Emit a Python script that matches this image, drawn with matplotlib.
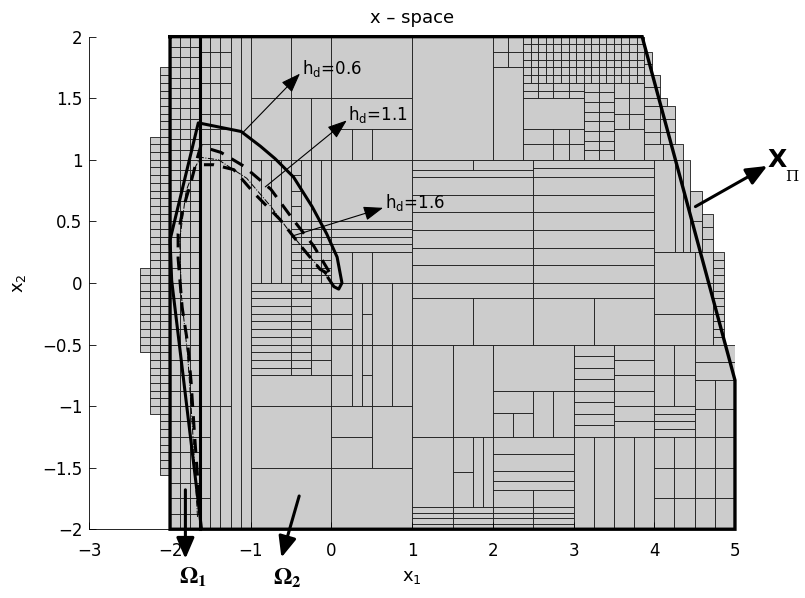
import numpy as np
import matplotlib.pyplot as plt
from matplotlib.patches import Rectangle
from matplotlib.collections import PatchCollection

# partition boxes: (x0, x1, y0, y1, columns, rows), each box split evenly
boxes = [
    # left fringe outside x1 = -2
    (-2.125, -2.0, -1.5625, 1.75, 1, 53),
    (-2.25, -2.125, -1.0625, 1.1875, 1, 36),
    (-2.375, -2.25, -0.5625, 0.125, 1, 11),
    # x1 in [-2, -1]
    (-2.0, -1.625, 0.5, 2.0, 3, 18),
    (-2.0, -1.625, -2.0, 0.5, 3, 20),
    (-1.625, -1.25, 1.0, 2.0, 3, 8),
    (-1.625, -1.25, -1.0, 1.0, 3, 1),
    (-1.625, -1.5, -2.0, -1.0, 1, 4),
    (-1.5, -1.25, -2.0, -1.0, 2, 1),
    (-1.25, -1.0, -2.0, 2.0, 2, 1),
    # x1 in [-1, 0]
    (-1.0, -0.5, 1.5, 2.0, 1, 1),
    (-0.5, 0.0, 1.5, 2.0, 1, 1),
    (-1.0, -0.5, 1.0, 1.5, 1, 1),
    (-0.5, 0.0, 1.0, 1.5, 2, 1),
    (-1.0, -0.5, 0.5, 1.0, 4, 1),
    (-0.5, -0.375, 0.5, 1.0, 1, 4),
    (-0.375, 0.0, 0.5, 1.0, 3, 1),
    (-1.0, -0.5, 0.0, 0.5, 4, 1),
    (-0.5, 0.0, 0.0, 0.5, 4, 8),
    (-1.0, -0.5, -0.75, 0.0, 1, 12),
    (-0.5, -0.25, -0.75, 0.0, 1, 12),
    (-0.25, 0.0, -0.75, 0.0, 1, 6),
    (-1.0, 0.0, -1.0, -0.75, 1, 1),
    (-1.0, 0.0, -1.5, -1.0, 1, 1),
    (-1.0, 0.0, -2.0, -1.5, 1, 1),
    # x1 in [0, 1]
    (0.0, 1.0, 1.5, 2.0, 1, 1),
    (0.0, 1.0, 1.25, 1.5, 1, 1),
    (0.0, 0.5, 1.0, 1.25, 2, 1),
    (0.5, 1.0, 1.0, 1.25, 1, 1),
    (0.0, 1.0, 0.5, 1.0, 1, 1),
    (0.0, 1.0, 0.25, 0.5, 1, 4),
    (0.0, 0.5, 0.0, 0.25, 2, 1),
    (0.5, 1.0, 0.0, 0.25, 1, 1),
    (0.0, 0.25, -0.5, 0.0, 1, 4),
    (0.25, 0.375, -1.0, 0.0, 1, 2),
    (0.375, 0.5, -1.0, 0.0, 1, 4),
    (0.5, 0.75, -1.0, 0.0, 1, 2),
    (0.75, 1.0, -1.0, 0.0, 1, 2),
    (0.0, 0.25, -1.0, -0.5, 1, 2),
    (0.0, 0.5, -1.5, -1.0, 1, 2),
    (0.5, 1.0, -1.5, -1.0, 1, 1),
    (0.0, 1.0, -2.0, -1.5, 1, 1),
    # upper middle / upper right
    (1.0, 2.0, 1.0, 2.0, 1, 1),
    (2.0, 2.375, 1.75, 2.0, 2, 2),
    (2.0, 2.375, 1.0, 1.75, 1, 1),
    (2.375, 3.125, 1.625, 2.0, 8, 6),
    (2.375, 3.125, 1.5, 1.625, 4, 2),
    (2.375, 3.125, 1.25, 1.5, 1, 1),
    (2.375, 2.75, 1.0, 1.25, 1, 2),
    (2.75, 3.125, 1.0, 1.25, 2, 2),
    (3.125, 3.875, 1.625, 2.0, 8, 6),
    (3.125, 3.5, 1.0, 1.625, 2, 8),
    (3.5, 3.875, 1.25, 1.625, 2, 3),
    (3.5, 3.875, 1.0, 1.25, 1, 1),
    (3.875, 3.97, 1.6875, 1.875, 1, 2),
    (3.875, 4.07, 1.5, 1.6875, 1, 2),
    (3.875, 4.16, 1.4375, 1.5, 1, 1),
    (3.875, 4.26, 1.125, 1.4375, 2, 3),
    (3.875, 4.35, 1.0, 1.125, 2, 1),
    # band y in [0, 1]
    (1.0, 1.75, 0.92, 1.0, 1, 1),
    (1.75, 2.5, 0.92, 1.0, 1, 1),
    (1.0, 2.5, 0.86, 0.92, 1, 1),
    (1.0, 2.5, 0.0, 0.86, 1, 6),
    (2.5, 4.0, 0.86, 1.0, 1, 2),
    (2.5, 4.0, 0.0, 0.86, 1, 6),
    (4.0, 4.26, 0.25, 1.0, 1, 1),
    (4.26, 4.35, 0.25, 1.0, 1, 1),
    (4.35, 4.44, 0.25, 1.0, 1, 1),
    (4.44, 4.59, 0.25, 0.75, 1, 2),
    (4.59, 4.73, 0.25, 0.5625, 1, 3),
    (4.0, 4.5, -0.5, 0.25, 1, 3),
    (4.5, 4.73, -0.5, 0.25, 1, 3),
    (4.73, 4.87, -0.5, 0.25, 1, 12),
    # lower middle
    (1.0, 2.5, -0.125, 0.0, 1, 1),
    (2.5, 4.0, -0.125, 0.0, 1, 1),
    (1.0, 1.75, -0.5, -0.125, 1, 1),
    (1.75, 2.5, -0.5, -0.125, 1, 1),
    (2.5, 3.25, -0.5, -0.125, 1, 1),
    (3.25, 4.0, -0.5, -0.125, 1, 1),
    (1.0, 1.5, -1.25, -0.5, 1, 1),
    (1.5, 2.0, -1.25, -0.5, 1, 1),
    (2.0, 3.0, -0.875, -0.5, 1, 1),
    (2.0, 2.5, -1.06, -0.875, 1, 1),
    (2.0, 2.5, -1.25, -1.06, 2, 1),
    (2.5, 3.0, -1.25, -0.875, 2, 1),
    (1.0, 1.5, -1.82, -1.25, 1, 1),
    (1.5, 1.75, -1.82, -1.25, 1, 2),
    (1.75, 2.0, -1.82, -1.25, 2, 1),
    (2.0, 3.0, -1.53, -1.25, 1, 2),
    (2.0, 3.0, -1.68, -1.53, 1, 2),
    (2.0, 2.5, -1.82, -1.68, 1, 1),
    (2.5, 3.0, -1.82, -1.68, 1, 1),
    (1.0, 3.0, -2.0, -1.82, 4, 4),
    # lower right
    (3.0, 3.5, -1.25, -0.5, 1, 8),
    (3.5, 4.0, -1.25, -0.5, 1, 6),
    (3.0, 4.0, -2.0, -1.25, 4, 1),
    (4.0, 4.5, -1.0, -0.5, 2, 2),
    (4.0, 4.5, -1.25, -1.0, 1, 4),
    (4.5, 5.0, -0.79, -0.5, 1, 2),
    (4.5, 5.0, -1.25, -0.79, 2, 2),
    (4.0, 4.5, -2.0, -1.25, 2, 3),
    (4.5, 5.0, -2.0, -1.25, 2, 3),
]

# feasible set X_Pi and the Omega_1 / Omega_2 boundary
region_x = [-2.0, 3.85, 5.0, 5.0, -2.0, -2.0]
region_y = [2.0, 2.0, -0.79, -2.0, -2.0, 2.0]
split_x = -1.625

# level curves
solid_x = [-1.61, -1.98, -2.0, -1.65, -1.12, -0.88, -0.70, -0.47, -0.24, -0.06, 0.07, 0.13, 0.09, 0.03, -0.04]
solid_y = [-2.0, 0.02, 0.35, 1.30, 1.23, 1.11, 1.01, 0.86, 0.62, 0.40, 0.21, 0.0, -0.05, -0.03, 0.04]
dash_x = [-1.64, -1.70, -1.74, -1.78, -1.85, -1.90, -1.90, -1.84, -1.74, -1.66, -1.62, -1.37, -1.09,
          -0.75, -0.47, -0.22, 0.0, -0.14, -0.38, -0.63, -0.96, -1.21, -1.46, -1.58]
dash_y = [-1.75, -1.2, -0.8, -0.5, -0.2, 0.2, 0.4, 0.6, 0.82, 1.02, 1.11, 1.06, 0.95,
          0.76, 0.51, 0.30, 0.06, 0.11, 0.30, 0.51, 0.73, 0.92, 0.96, 0.96]
dd_x = [-1.66, -1.72, -1.78, -1.86, -1.88, -1.80, -1.68, -1.62, -1.40, -1.05, -0.75, -0.50, -0.25, -0.05]
dd_y = [-1.9, -1.2, -0.6, -0.1, 0.35, 0.75, 0.95, 1.02, 1.0, 0.85, 0.62, 0.40, 0.20, 0.05]

hd_labels = ['0.6', '1.1', '1.6']
hd_tail = [(-1.10, 1.22), (-0.82, 0.78), (-0.49, 0.38)]
hd_head = [(-0.39, 1.70), (0.19, 1.32), (0.64, 0.61)]

fig = plt.figure(figsize=(8.05, 5.98), dpi=100)
ax = fig.add_axes([0.111, 0.115, 0.802, 0.8237])

cells = []
for x0, x1, y0, y1, nx, ny in boxes:
    xs = np.linspace(x0, x1, nx + 1)
    ys = np.linspace(y0, y1, ny + 1)
    for i in range(nx):
        for j in range(ny):
            cells.append(Rectangle((xs[i], ys[j]), xs[i + 1] - xs[i], ys[j + 1] - ys[j]))
ax.add_collection(PatchCollection(cells, facecolor='#cccccc', edgecolor='#1a1a1a',
                                  linewidth=0.6, zorder=1))

ax.plot(region_x, region_y, color='k', lw=2.4, zorder=3, clip_on=False, solid_joinstyle='miter')
ax.plot([split_x, split_x], [-2, 2], color='k', lw=2.2, zorder=3, clip_on=False)

ax.plot(solid_x, solid_y, color='k', lw=2.2, zorder=4)
ax.plot(dash_x, dash_y, color='k', lw=2.2, ls=(0, (4.5, 3)), zorder=4)
ax.plot(dd_x, dd_y, color='k', lw=0.7, ls='-.', zorder=4)

for lab, t, h in zip(hd_labels, hd_tail, hd_head):
    ax.annotate('', xy=h, xytext=t,
                arrowprops=dict(arrowstyle='-|>,head_length=0.6,head_width=0.22',
                                color='k', lw=0.8, mutation_scale=20, shrinkA=0, shrinkB=0),
                zorder=5)
    ax.text(h[0] + 0.02, h[1], r'h$_\mathrm{d}$=' + lab, fontsize=12,
            ha='left', va='baseline', zorder=5)

thick = dict(arrowstyle='-|>,head_length=0.7,head_width=0.3', color='k', lw=2.2,
             mutation_scale=18, shrinkA=0, shrinkB=0)
ax.annotate('', xy=(-1.81, -2.24), xytext=(-1.81, -1.68), arrowprops=thick,
            annotation_clip=False, zorder=5)
ax.annotate('', xy=(-0.62, -2.23), xytext=(-0.40, -1.73), arrowprops=thick,
            annotation_clip=False, zorder=5)
ax.annotate('', xy=(5.40, 0.95), xytext=(4.51, 0.62), arrowprops=thick,
            annotation_clip=False, zorder=5)

ax.text(-1.72, -2.39, r'$\mathbf{\Omega_1}$', fontsize=17, math_fontfamily='stix',
        ha='center', va='center')
ax.text(-0.55, -2.40, r'$\mathbf{\Omega_2}$', fontsize=17, math_fontfamily='stix',
        ha='center', va='center')
ax.text(5.40, 1.0, 'X', fontsize=18, fontweight='bold', ha='left', va='center')
ax.text(5.62, 0.86, 'Π', fontsize=11, family='DejaVu Serif', ha='left', va='center')

ax.set_xlim(-3, 5)
ax.set_ylim(-2, 2)
ax.set_xticks(range(-3, 6))
ax.set_xticklabels(['−3', '−2', '−1', '0', '1', '2', '3', '4', '5'])
ax.set_yticks(np.arange(-2, 2.01, 0.5))
ax.set_yticklabels(['−2', '−1.5', '−1', '−0.5', '0', '0.5', '1', '1.5', '2'])
ax.tick_params(direction='in', length=5, width=0.6, labelsize=12)
ax.tick_params(axis='x', pad=9)
ax.tick_params(axis='y', pad=5)
for s in ['top', 'right']:
    ax.spines[s].set_visible(False)
for s in ['left', 'bottom']:
    ax.spines[s].set_linewidth(0.6)

ax.set_xlabel(r'x$_1$', fontsize=13, labelpad=6)
ax.set_ylabel(r'x$_2$', fontsize=13, labelpad=10)
ax.set_title('x – space', fontsize=13, pad=10)

fig.savefig('out.png', dpi=100)
